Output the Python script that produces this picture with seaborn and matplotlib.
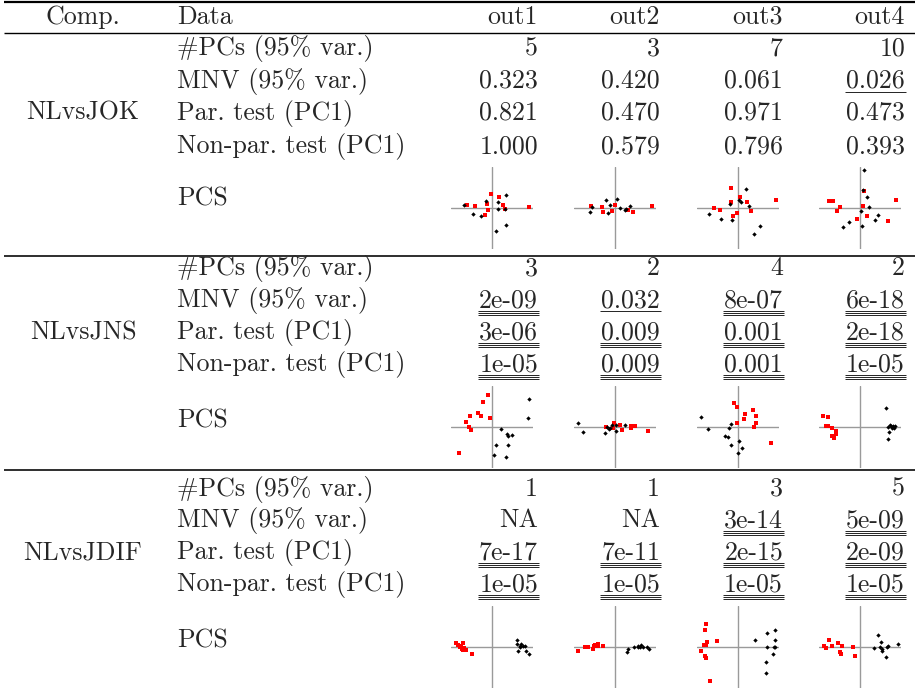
import matplotlib
matplotlib.use("Agg")
import matplotlib.pyplot as plt
import seaborn as sns
import pandas as pd

# ---------------- data ----------------
comparisons = ["NLvsJOK", "NLvsJNS", "NLvsJDIF"]
outputs = ["out1", "out2", "out3", "out4"]
row_labels = ["#PCs (95% var.)", "MNV (95% var.)", "Par. test (PC1)",
              "Non-par. test (PC1)", "PCS"]

jok_values = [["5", "3", "7", "10"],
              ["0.323", "0.420", "0.061", "0.026"],
              ["0.821", "0.470", "0.971", "0.473"],
              ["1.000", "0.579", "0.796", "0.393"]]
jns_values = [["3", "2", "4", "2"],
              ["2e-09", "0.032", "8e-07", "6e-18"],
              ["3e-06", "0.009", "0.001", "2e-18"],
              ["1e-05", "0.009", "0.001", "1e-05"]]
jdif_values = [["1", "1", "3", "5"],
               ["NA", "NA", "3e-14", "5e-09"],
               ["7e-17", "7e-11", "2e-15", "2e-09"],
               ["1e-05", "1e-05", "1e-05", "1e-05"]]

# number of underlines per cell (significance marks)
jok_marks = [[0, 0, 0, 0], [0, 0, 0, 1], [0, 0, 0, 0], [0, 0, 0, 0]]
jns_marks = [[0, 0, 0, 0], [3, 1, 3, 3], [3, 3, 3, 3], [3, 3, 3, 3]]
jdif_marks = [[0, 0, 0, 0], [0, 0, 3, 3], [3, 3, 3, 3], [3, 3, 3, 3]]

# PC scores (PC1, PC2) for the two groups, one list per output
jok_red = [
    [(-75, 10), (-50, 6), (-3, 43), (21, 33), (-16, 12), (33, 9), (40, -3), (-11, -7), (-21, -21), (111, 4)],
    [(-72, 6), (-38, 2), (-35, -12), (1, 10), (-9, -10), (38, -5), (55, -12), (112, 6)],
    [(-21, 60), (5, 34), (-22, 18), (28, 18), (-73, 0), (-55, -7), (-4, -15), (-15, -23), (40, -8), (113, 24)],
    [(-94, 20), (-82, 22), (-70, -9), (-59, 3), (12, 51), (10, 6), (20, -25), (-8, -33), (85, -38), (108, 24)],
]
jok_black = [
    [(-84, 10), (-18, 20), (17, 18), (42, 39), (19, -2), (40, -3), (-57, -17), (-32, -23), (12, -70), (43, -52)],
    [(-76, -11), (-70, 4), (-26, 23), (-15, 10), (7, 28), (16, -1), (31, -5), (-21, -15), (45, 7), (32, -2)],
    [(25, 57), (3, 25), (10, 18), (-25, 12), (34, 5), (-88, -17), (-50, -32), (-19, -35), (65, -55), (47, -79)],
    [(12, 113), (8, 53), (22, 33), (28, 2), (4, -10), (55, -21), (46, -36), (-34, -42), (-50, -57), (6, -55)],
]
jns_red = [
    [(-12, 95), (-26, 75), (-42, 42), (-33, 34), (-66, 34), (-78, 16), (-5, 28), (-68, -1), (-64, -9), (-99, -78)],
    [(-28, -1), (-4, 11), (16, 6), (48, 2), (61, 3), (49, -3), (21, -9), (99, -13), (-5, -3)],
    [(-12, 72), (-3, 60), (22, 39), (19, 25), (46, 50), (53, 34), (53, 12), (47, 0), (-4, 12), (98, -47)],
    [(-110, 34), (-95, 31), (-101, 2), (-97, 2), (-85, -4), (-73, -12), (-71, -21), (-83, -26), (-79, -33)],
]
jns_black = [
    [(111, 84), (109, 28), (26, -6), (46, -20), (49, -28), (61, -25), (13, -55), (47, -55), (6, -85), (41, -89)],
    [(-111, 11), (-97, -16), (-31, -18), (-23, -1), (-15, -3), (-9, 5), (3, 6), (29, 6), (3, -11), (-17, -6)],
    [(-111, 29), (-91, -6), (-20, 9), (-26, -4), (-39, -27), (-30, -31), (3, -43), (-20, -53), (13, -63), (-1, -78)],
    [(78, 56), (90, 7), (85, 1), (93, 4), (100, 3), (105, 4), (97, -4), (102, -4), (88, -16), (83, -37)],
]
jdif_red = [
    [(-108, 13), (-101, 7), (-87, 13), (-94, 2), (-91, -5), (-87, -10), (-79, -8), (-97, 0), (-59, -20), (-84, -3)],
    [(-110, -12), (-89, 0), (-80, 0), (-66, -5), (-60, 7), (-51, 9), (-50, 3), (-35, 2), (-62, 2)],
    [(-96, 68), (-99, 52), (-92, 16), (-103, 7), (-96, 7), (-110, -11), (-98, -28), (-95, -34), (-63, 19), (-84, -103)],
    [(-94, 20), (-107, 3), (-103, -4), (-85, 2), (-66, 12), (-55, 2), (-60, -15), (-58, -20), (-20, 0), (-14, -26)],
]
jdif_black = [
    [(76, 20), (75, 8), (88, 10), (83, 4), (93, 3), (98, 2), (79, -12), (103, -12), (112, -20), (85, 0)],
    [(36, -16), (39, -5), (56, 0), (70, 2), (79, 5), (84, 1), (95, 0), (103, -5), (69, 0), (75, 1)],
    [(50, 20), (87, 42), (112, 52), (112, 22), (86, 0), (109, 0), (112, 0), (106, -21), (85, -45), (83, -78)],
    [(53, 36), (62, 14), (43, -3), (67, -5), (66, -11), (80, 0), (83, 2), (113, 10), (78, -30), (60, 0)],
]

# ---------------- layout ----------------
W, H = 915, 692
FS = 18.6
sns.set_theme(style="white")
plt.rcParams["font.family"] = ["cmr10", "DejaVu Serif"]
plt.rcParams["axes.formatter.use_mathtext"] = True

fig = plt.figure(figsize=(W / 100, H / 100), dpi=100)
bg = fig.add_axes([0, 0, 1, 1])
bg.set_xlim(0, W)
bg.set_ylim(H, 0)
bg.axis("off")

comp_x = 83
data_x = 177
col_right = [538, 660, 783, 905]
plot_cx = [492, 615, 738, 860]
plot_size = 82
lim = 123

# rules
bg.plot([4, W], [2, 2], color="black", lw=1.6, solid_capstyle="butt")
bg.plot([4, W], [33, 33], color="black", lw=1.0, solid_capstyle="butt")
for yr in [256, 470]:
    bg.plot([4, W], [yr, yr], color="black", lw=1.15, solid_capstyle="butt")

# header
bg.text(comp_x, 24, "Comp.", ha="center", va="baseline", fontsize=FS)
bg.text(data_x, 24, "Data", ha="left", va="baseline", fontsize=FS)
for j, o in enumerate(outputs):
    bg.text(col_right[j], 24, o, ha="right", va="baseline", fontsize=FS)

blocks = [
    (jok_values, jok_marks, jok_red, jok_black, [55, 88, 120, 153], 205, 208),
    (jns_values, jns_marks, jns_red, jns_black, [275, 307, 339, 371], 427, 427),
    (jdif_values, jdif_marks, jdif_red, jdif_black, [496, 527, 559, 591], 647, 647),
]

fig.canvas.draw()
renderer = fig.canvas.get_renderer()
inv = bg.transData.inverted()

for b, (vals, marks, reds, blacks, base_y, pcs_y, plot_cy) in enumerate(blocks):
    bg.text(comp_x, base_y[2], comparisons[b], ha="center", va="baseline", fontsize=FS)
    for i in range(4):
        bg.text(data_x, base_y[i], row_labels[i], ha="left", va="baseline", fontsize=FS)
        for j in range(4):
            t = bg.text(col_right[j], base_y[i], vals[i][j], ha="right",
                        va="baseline", fontsize=FS)
            n = marks[i][j]
            if n:
                bb = t.get_window_extent(renderer=renderer)
                x0 = inv.transform((bb.x0, bb.y0))[0] - 1
                x1 = inv.transform((bb.x1, bb.y0))[0] + 1
                for k in range(n):
                    yy = base_y[i] + 4 + 2 * k
                    bg.plot([x0, x1], [yy, yy], color="black", lw=0.6,
                            solid_capstyle="butt")
    bg.text(data_x, pcs_y, row_labels[4], ha="left", va="baseline", fontsize=FS)

    for j in range(4):
        cx, cy = plot_cx[j], plot_cy
        ax = fig.add_axes([(cx - plot_size / 2) / W,
                           1 - (cy + plot_size / 2) / H,
                           plot_size / W, plot_size / H])
        ax.set_xlim(-lim, lim)
        ax.set_ylim(-lim, lim)
        ax.axhline(0, color="#9a9a9a", lw=1.0, zorder=0)
        ax.axvline(0, color="#9a9a9a", lw=1.0, zorder=0)
        dr = pd.DataFrame(reds[j], columns=["PC1", "PC2"])
        dk = pd.DataFrame(blacks[j], columns=["PC1", "PC2"])
        sns.scatterplot(data=dr, x="PC1", y="PC2", ax=ax, color="#ff0000",
                        marker="s", s=9, linewidth=0, legend=False, zorder=2)
        sns.scatterplot(data=dk, x="PC1", y="PC2", ax=ax, color="black",
                        marker="D", s=5, linewidth=0, legend=False, zorder=3)
        ax.axis("off")

fig.savefig("out.png", dpi=100)
